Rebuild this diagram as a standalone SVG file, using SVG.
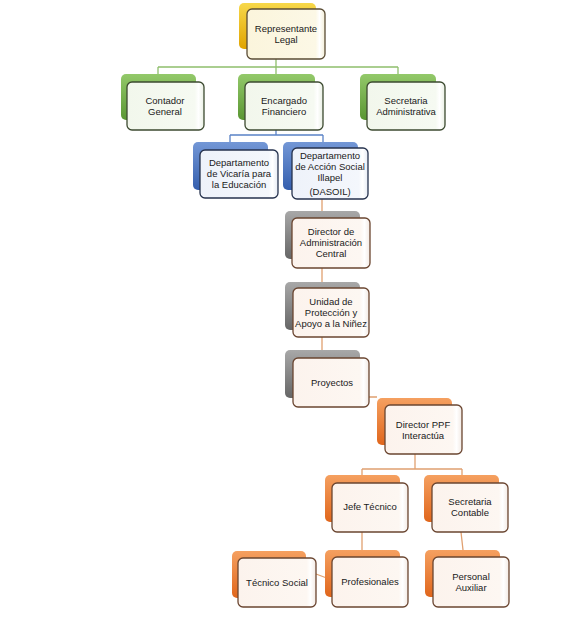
<svg xmlns="http://www.w3.org/2000/svg" width="586" height="643" viewBox="0 0 586 643">
<defs>
<linearGradient id="gGold" x1="0" y1="0" x2="0" y2="1"><stop offset="0" stop-color="#f7d84a"/><stop offset="1" stop-color="#e0a400"/></linearGradient>
<linearGradient id="gGreen" x1="0" y1="0" x2="0" y2="1"><stop offset="0" stop-color="#93c96a"/><stop offset="1" stop-color="#5a9632"/></linearGradient>
<linearGradient id="gBlue" x1="0" y1="0" x2="0" y2="1"><stop offset="0" stop-color="#7397d6"/><stop offset="1" stop-color="#355fae"/></linearGradient>
<linearGradient id="gGray" x1="0" y1="0" x2="0" y2="1"><stop offset="0" stop-color="#a8a8a8"/><stop offset="1" stop-color="#666666"/></linearGradient>
<linearGradient id="gOrange" x1="0" y1="0" x2="0" y2="1"><stop offset="0" stop-color="#f5a060"/><stop offset="1" stop-color="#e0661c"/></linearGradient>
<linearGradient id="fGold" x1="0" y1="0" x2="1" y2="0"><stop offset="0" stop-color="#fbf5dc"/><stop offset="0.88" stop-color="#fcf8e6"/><stop offset="0.93" stop-color="#ffffff"/><stop offset="1" stop-color="#f3eed6"/></linearGradient>
<linearGradient id="fGreen" x1="0" y1="0" x2="1" y2="0"><stop offset="0" stop-color="#f2f7ec"/><stop offset="0.88" stop-color="#f6faf2"/><stop offset="0.93" stop-color="#ffffff"/><stop offset="1" stop-color="#e9efe3"/></linearGradient>
<linearGradient id="fBlue" x1="0" y1="0" x2="1" y2="0"><stop offset="0" stop-color="#eef2fa"/><stop offset="0.88" stop-color="#f4f7fc"/><stop offset="0.93" stop-color="#ffffff"/><stop offset="1" stop-color="#e5eaf3"/></linearGradient>
<linearGradient id="fWarm" x1="0" y1="0" x2="1" y2="0"><stop offset="0" stop-color="#fcf3ed"/><stop offset="0.88" stop-color="#fdf7f2"/><stop offset="0.93" stop-color="#ffffff"/><stop offset="1" stop-color="#f2e9e3"/></linearGradient>
</defs>
<style>
.b{stroke:none}
.f{stroke-width:1.3}
.kG .f{fill:url(#fGold);stroke:#5a4c35}
.kN .f{fill:url(#fGreen);stroke:#3c4a30}
.kB .f{fill:url(#fBlue);stroke:#26324d}
.kW .f{fill:url(#fWarm);stroke:#6a4530}
.kG .b{fill:url(#gGold)}
.kN .b{fill:url(#gGreen)}
.kB .b{fill:url(#gBlue)}
.kY .b{fill:url(#gGray)}
.kO .b{fill:url(#gOrange)}
text{font-family:"Liberation Sans",Arial,sans-serif;font-size:9.5px;fill:#1a1a1a;text-anchor:middle}
.c{fill:none;stroke-width:1.3}
.cg{stroke:#8fbf6c}
.cb{stroke:#5a82c6}
.co{stroke:#e0a070}
</style>
<rect width="586" height="643" fill="#ffffff"/>
<g id="connectors">
<path class="c cg" d="M276 59V67M158 67H398M158 67V74M398 67V74M276 67V74"/>
<path class="c cb" d="M276 130V135M230 135H323M230 135V142M323 135V142"/>
<path class="c co" d="M322 199V211M322 268V282M322 337V350M369 397H377M415 454V469M362 469H462M362 469V475M462 469V475M362 532V550M461 532L463 550M316 574L332 580"/>
</g>
<g id="rep" class="kG"><rect class="b" x="239" y="3" width="77" height="46" rx="5"/><rect class="f" x="247" y="9" width="78" height="50" rx="5"/><text x="286" y="32">Representante</text><text x="286" y="43">Legal</text></g>
<g id="contador" class="kN"><rect class="b" x="121" y="74" width="75" height="46" rx="5"/><rect class="f" x="127" y="82" width="77" height="48" rx="5"/><text x="165" y="104">Contador</text><text x="165" y="115">General</text></g>
<g id="encargado" class="kN"><rect class="b" x="238" y="74" width="77" height="46" rx="5"/><rect class="f" x="245" y="82" width="78" height="48" rx="5"/><text x="284" y="104">Encargado</text><text x="284" y="115">Financiero</text></g>
<g id="secadm" class="kN"><rect class="b" x="360" y="74" width="76" height="46" rx="5"/><rect class="f" x="367" y="82" width="78" height="48" rx="5"/><text x="406" y="104">Secretaria</text><text x="406" y="115">Administrativa</text></g>
<g id="vicaria" class="kB"><rect class="b" x="193" y="142" width="75" height="48" rx="5"/><rect class="f" x="200" y="150" width="78" height="48" rx="5"/><text x="239" y="166">Departamento</text><text x="239" y="177">de Vicaría para</text><text x="239" y="188">la Educación</text></g>
<g id="dasoil" class="kB"><rect class="b" x="283" y="142" width="75" height="48" rx="5"/><rect class="f" x="292" y="148" width="76" height="51" rx="5"/><text x="330" y="159">Departamento</text><text x="330" y="170">de Acción Social</text><text x="330" y="181">Illapel</text><text x="330" y="195">(DASOIL)</text></g>
<g id="diradm" class="kY kW"><rect class="b" x="285" y="211" width="75" height="48" rx="5"/><rect class="f" x="292" y="218" width="78" height="50" rx="5"/><text x="331" y="235">Director de</text><text x="331" y="246">Administración</text><text x="331" y="257">Central</text></g>
<g id="unidad" class="kY kW"><rect class="b" x="285" y="282" width="75" height="48" rx="5"/><rect class="f" x="293" y="288" width="76" height="49" rx="5"/><text x="331" y="305">Unidad de</text><text x="331" y="316">Protección y</text><text x="331" y="327">Apoyo a la Niñez</text></g>
<g id="proyectos" class="kY kW"><rect class="b" x="285" y="350" width="75" height="48" rx="5"/><rect class="f" x="293" y="358" width="76" height="49" rx="5"/><text x="332" y="386">Proyectos</text></g>
<g id="dirppf" class="kO kW"><rect class="b" x="377" y="398" width="75" height="47" rx="5"/><rect class="f" x="385" y="405" width="77" height="49" rx="5"/><text x="423" y="428">Director PPF</text><text x="423" y="439">Interactúa</text></g>
<g id="jefe" class="kO kW"><rect class="b" x="325" y="475" width="75" height="47" rx="5"/><rect class="f" x="332" y="483" width="76" height="49" rx="5"/><text x="370" y="510">Jefe Técnico</text></g>
<g id="seccont" class="kO kW"><rect class="b" x="424" y="475" width="75" height="47" rx="5"/><rect class="f" x="432" y="483" width="76" height="49" rx="5"/><text x="470" y="505">Secretaria</text><text x="470" y="516">Contable</text></g>
<g id="tecnico" class="kO kW"><rect class="b" x="232" y="551" width="74" height="47" rx="5"/><rect class="f" x="238" y="558" width="78" height="49" rx="5"/><text x="277" y="586">Técnico Social</text></g>
<g id="profesionales" class="kO kW"><rect class="b" x="325" y="550" width="75" height="47" rx="5"/><rect class="f" x="332" y="557" width="76" height="50" rx="5"/><text x="370" y="585">Profesionales</text></g>
<g id="personal" class="kO kW"><rect class="b" x="425" y="550" width="75" height="47" rx="5"/><rect class="f" x="433" y="557" width="76" height="50" rx="5"/><text x="471" y="580">Personal</text><text x="471" y="591">Auxiliar</text></g>
</svg>
